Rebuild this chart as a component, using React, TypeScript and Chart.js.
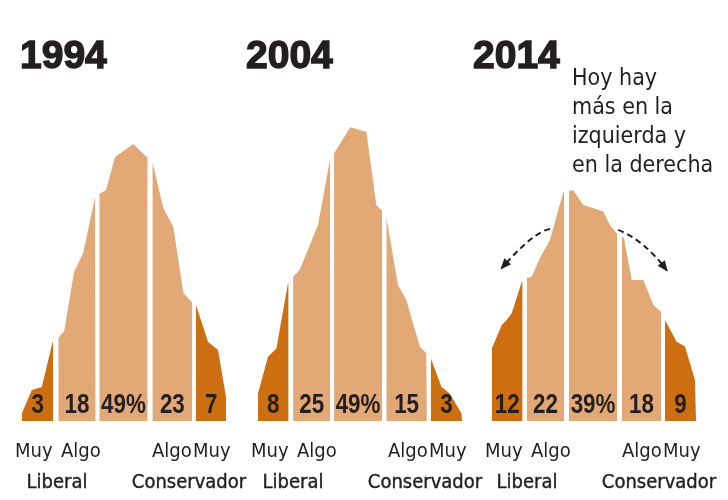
import React, { useEffect, useRef } from "react";
import { Chart, registerables } from "chart.js";

Chart.register(...registerables);

// ---------- DATA ----------
const years = ["1994", "2004", "2014"];
const segmentNames = ["Muy liberal", "Algo liberal", "Mixto", "Algo conservador", "Muy conservador"];

// Share of each group (labels inside the shapes)
const shares1994 = ["3", "18", "49%", "23", "7"];
const shares2004 = ["8", "25", "49%", "15", "3"];
const shares2014 = ["12", "22", "39%", "18", "9"];

// Distribution outline per segment: [ideology position 0..100, density]
const shape1994 = [
  [[0, 2.7], [4.8, 10.3], [9.7, 11.3], [15.0, 26.3], [15.3, 26.3]],
  [[17.8, 27.7], [20.7, 30.0], [25.5, 49.7], [30.0, 56.0], [35.8, 74.7], [36.1, 74.7]],
  [[37.9, 75.7], [41.2, 77.0], [45.6, 88.0], [54.6, 92.3], [61.1, 88.0], [61.6, 88.0]],
  [[63.9, 86.3], [69.3, 71.0], [74.2, 64.7], [79.1, 42.7], [83.2, 39.7], [83.5, 39.7]],
  [[85.3, 38.7], [91.2, 26.3], [96.1, 23.7], [100.0, 8.0], [100.3, 0]],
];
const shape2004 = [
  [[0, 9.2], [4.9, 21.4], [9.0, 24.2], [14.7, 45.9], [15.0, 45.9]],
  [[17.2, 48.1], [20.4, 50.3], [29.4, 65.3], [35.1, 86.4], [35.4, 86.4]],
  [[37.3, 89.2], [45.2, 97.9], [53.1, 96.4], [58.0, 72.0], [60.4, 70.3], [60.8, 70.3]],
  [[62.9, 68.1], [68.6, 45.3], [72.7, 40.3], [79.3, 24.8], [82.5, 22.6], [82.8, 22.6]],
  [[84.7, 20.9], [89.9, 11.4], [94.0, 9.2], [99.7, 2.6], [100.1, 0]],
];
const shape2014 = [
  [[0, 24.3], [4.8, 32.0], [7.2, 33.7], [9.7, 36.0], [14.6, 46.4], [15.0, 46.4]],
  [[17.0, 47.7], [19.5, 48.1], [23.5, 54.3], [28.4, 60.3], [35.0, 76.4], [35.4, 76.4]],
  [[37.7, 76.8], [39.9, 76.8], [44.8, 72.0], [54.6, 69.8], [57.8, 65.3], [61.1, 62.6], [61.4, 62.6]],
  [[63.6, 61.4], [64.7, 60.9], [68.5, 47.0], [74.2, 47.0], [79.1, 38.7], [82.7, 36.4], [83.0, 36.4]],
  [[84.8, 33.7], [90.5, 26.4], [94.6, 24.8], [99.5, 13.7], [100.0, 0]],
];

const scaleLabels = ["Muy", "Algo", "Algo", "Muy"];
const groupLabels = ["Liberal", "Conservador"];
const noteLines = ["Hoy hay", "más en la", "izquierda y", "en la derecha"];
// dashed arrows for 2014, in data units: from, control, to
const arrows2014 = [
  { from: [28.4, 64.0], ctrl: [20.6, 63.2], to: [4.8, 51.0] },
  { from: [61.9, 63.7], ctrl: [74.5, 60.3], to: [85.6, 50.3] },
];

// ---------- STYLE / LAYOUT ----------
const DARK = "#CD6E10";
const LIGHT = "#E2A876";
const INK = "#231F20";
const segColors = [DARK, LIGHT, LIGHT, LIGHT, DARK];
const REG = "'DejaVu Sans Condensed', sans-serif";
const W = 728;
const PLOT_W = 204;

const panels = [
  { year: years[0], shape: shape1994, shares: shares1994, plotLeft: 22, titleX: 20 },
  { year: years[1], shape: shape2004, shares: shares2004, plotLeft: 258, titleX: 246 },
  { year: years[2], shape: shape2014, shares: shares2014, plotLeft: 492, titleX: 473, note: true },
];

function Panel({ cfg }: { cfg: any }) {
  const ref = useRef<HTMLCanvasElement>(null);
  useEffect(() => {
    const textPlugin = {
      id: "panelText",
      afterDraw(chart: any) {
        const ctx = chart.ctx as CanvasRenderingContext2D;
        const xs = chart.scales.x;
        const ys = chart.scales.y;
        const L = chart.chartArea.left;
        ctx.save();
        ctx.fillStyle = INK;
        ctx.strokeStyle = INK;
        ctx.textBaseline = "alphabetic";
        // title
        ctx.font = "bold 39px 'Liberation Sans', Arial, sans-serif";
        ctx.textAlign = "left";
        ctx.lineWidth = 1.4;
        ctx.fillText(cfg.year, cfg.titleX, 68);
        ctx.strokeText(cfg.year, cfg.titleX, 68);
        // shares (narrowed bold)
        ctx.font = "bold 28px 'Liberation Sans', Arial, sans-serif";
        ctx.textAlign = "center";
        const base = ys.getPixelForValue(0);
        const sx = 0.8;
        cfg.shape.forEach((seg: number[][], i: number) => {
          const x0 = xs.getPixelForValue(seg[0][0]);
          const x1 = xs.getPixelForValue(seg[seg.length - 1][0]);
          ctx.save();
          ctx.translate((x0 + x1) / 2, base - 8);
          ctx.scale(sx, 1);
          ctx.fillText(cfg.shares[i], 0, 0);
          ctx.restore();
        });
        // scale labels
        ctx.font = "20px " + REG;
        ctx.textAlign = "left";
        const offs = [-7, 39, 130, 171];
        scaleLabels.forEach((t, i) => ctx.fillText(t, L + offs[i], 457));
        ctx.textAlign = "center";
        ctx.lineWidth = 0.4;
        ctx.fillText(groupLabels[0], L + 35, 488);
        ctx.strokeText(groupLabels[0], L + 35, 488);
        ctx.fillText(groupLabels[1], L + 167, 488);
        ctx.strokeText(groupLabels[1], L + 167, 488);
        if (cfg.note) {
          ctx.textAlign = "left";
          ctx.font = "23px " + REG;
          noteLines.forEach((t, i) => ctx.fillText(t, 572, 85 + i * 29));
          // arrows
          arrows2014.forEach((a) => {
            const p0 = [xs.getPixelForValue(a.from[0]), ys.getPixelForValue(a.from[1])];
            const c = [xs.getPixelForValue(a.ctrl[0]), ys.getPixelForValue(a.ctrl[1])];
            const p2 = [xs.getPixelForValue(a.to[0]), ys.getPixelForValue(a.to[1])];
            ctx.setLineDash([6, 4]);
            ctx.lineWidth = 2;
            ctx.beginPath();
            ctx.moveTo(p0[0], p0[1]);
            ctx.quadraticCurveTo(c[0], c[1], p2[0], p2[1]);
            ctx.stroke();
            ctx.setLineDash([]);
            const ang = Math.atan2(p2[1] - c[1], p2[0] - c[0]);
            const len = 9, half = 4.5;
            const bx = p2[0] - len * Math.cos(ang);
            const by = p2[1] - len * Math.sin(ang);
            ctx.beginPath();
            ctx.moveTo(p2[0] + 2 * Math.cos(ang), p2[1] + 2 * Math.sin(ang));
            ctx.lineTo(bx - half * Math.sin(ang), by + half * Math.cos(ang));
            ctx.lineTo(bx + half * Math.sin(ang), by - half * Math.cos(ang));
            ctx.closePath();
            ctx.fill();
          });
        }
        ctx.restore();
      },
    };
    const chart = new Chart(ref.current as HTMLCanvasElement, {
      type: "line",
      data: {
        datasets: cfg.shape.map((seg: number[][], i: number) => ({
          label: segmentNames[i],
          data: seg.map((p) => ({ x: p[0], y: p[1] })),
          backgroundColor: segColors[i],
          borderColor: segColors[i],
          borderWidth: 0,
          fill: "origin",
          pointRadius: 0,
          tension: 0,
          clip: false,
        })),
      },
      options: {
        animation: false,
        responsive: false,
        events: [],
        layout: { padding: { left: cfg.plotLeft, right: W - cfg.plotLeft - PLOT_W, top: 121, bottom: 79 } },
        scales: {
          x: { type: "linear", min: 0, max: 100, display: false },
          y: { type: "linear", min: 0, max: 100, display: false },
        },
        plugins: { legend: { display: false }, tooltip: { enabled: false }, title: { display: false } },
      },
      plugins: [textPlugin],
    } as any);
    return () => chart.destroy();
  }, []);
  return (
    <canvas
      ref={ref}
      width={W}
      height={500}
      style={{ position: "absolute", left: 0, top: 0, width: W, height: 500 }}
    />
  );
}

export default function App() {
  return (
    <div style={{ position: "absolute", left: 0, top: 0, width: W, height: 500, background: "#fff", overflow: "hidden" }}>
      {panels.map((p) => (
        <Panel key={p.year} cfg={p} />
      ))}
    </div>
  );
}
